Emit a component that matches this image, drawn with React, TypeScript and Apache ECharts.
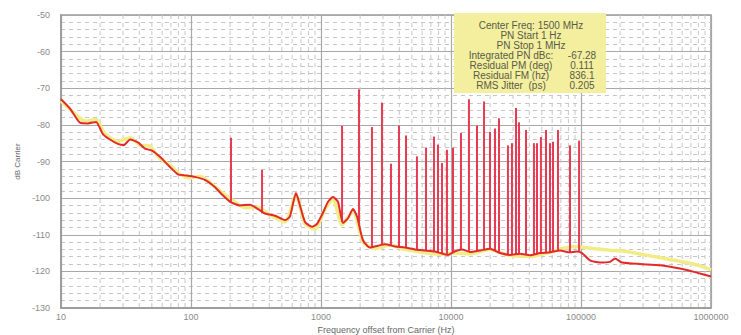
import React, { useEffect, useRef } from "react";
import * as echarts from "echarts";

// Red trace: phase-noise floor (Hz, dBc)
const redFreqs = [10, 11.7, 14, 16.1, 18.6, 21, 23.8, 27.4, 30.5, 34, 39.1, 44.3, 50.1, 57.7, 68.9, 79.4, 91.5, 107, 128, 153, 173, 200, 238, 284, 328, 371, 443, 529, 577, 642, 689, 753, 853, 932, 1036, 1132, 1237, 1351, 1476, 1613, 1763, 1892, 2104, 2382, 2745, 3107, 3708, 4429, 5286, 6310, 7532, 9483, 10740, 12150, 14005, 16720, 19953, 23820, 28430, 33950, 40530, 48370, 57730, 68930, 82290, 93160, 101800, 117300, 140000, 167100, 182600, 206800, 284300, 405300, 577400, 753300, 1000000];
const redValues = [-73, -75.5, -79.4, -79.6, -79.2, -82.5, -84, -85.2, -85.5, -84, -84.8, -86.5, -87, -88.7, -91.5, -93.5, -93.8, -94.2, -95, -97, -99, -101, -102, -101.8, -103, -104.2, -104.8, -106, -105, -98.6, -102, -106.5, -107.8, -107, -104, -101, -99.7, -101, -106.8, -105.5, -103, -105, -111.5, -113.5, -113, -112.6, -113.2, -113.5, -114, -114.3, -114.6, -115.5, -114.5, -114, -114.7, -114.3, -113.8, -115, -115.5, -115.2, -115.6, -115, -114.8, -114.3, -114.8, -114.6, -115, -117, -117.6, -117.4, -116.5, -117.6, -118, -118.3, -119.2, -120.2, -121.4];

// Yellow trace
const yellowFreqs = [10, 12.8, 15.3, 18.6, 21.8, 27.4, 34, 40.5, 48.4, 57.7, 68.9, 82.3, 98, 117, 145, 173, 207, 260, 328, 405, 529, 642, 753, 899, 1074, 1237, 1450, 1763, 2104, 2603, 3395, 4429, 5773, 8231, 10740, 14005, 19953, 28430, 40530, 57730, 75330, 93160, 107400, 128200, 167100, 218000, 310700, 442900, 631000, 823000, 1000000];
const yellowValues = [-73.5, -77, -79, -78.5, -82.5, -84.5, -83.5, -85.5, -85.8, -89.2, -91, -93.5, -94.5, -94, -96.2, -98.5, -100.5, -102.6, -102.5, -104.6, -106.5, -99.2, -107, -108.5, -103, -100.2, -107.3, -103.5, -112, -113.8, -112.8, -114, -114.7, -115.3, -115, -115.2, -114, -115.7, -115.9, -114.8, -113.6, -113.2, -113.5, -113.8, -114.2, -114.5, -115.5, -116.5, -117.5, -118.5, -119.6];

// Spurs: frequency, peak level, floor level at that offset
const spurFreqs = [203, 352, 1452, 1960, 2466, 2944, 3453, 3981, 4508, 5471, 6426, 7396, 7943, 8531, 9310, 10360, 11930, 13740, 15850, 17950, 19950, 21790, 23390, 27420, 29440, 31620, 33360, 37760, 43450, 45890, 49170, 53790, 57770, 60920, 66530, 82300, 96640];
const spurTops = [-83.5, -92.3, -80.3, -70.3, -80.6, -73.9, -90.6, -80.2, -82.9, -88.6, -86.2, -83.2, -85.4, -90.4, -86.8, -86.2, -82.2, -73, -80.2, -73.6, -81.9, -81, -78.2, -85.6, -85, -75.4, -79.3, -81.4, -85, -85, -83.3, -81.4, -85, -84.6, -81.4, -85.6, -84.3];
const spurBases = [-101, -104, -106.5, -107, -113.3, -112.8, -113, -113.3, -113.5, -114, -114.3, -114.6, -114.8, -115, -115.4, -114.7, -114, -114.6, -114.4, -114, -113.8, -114.4, -115, -115.4, -115.5, -115.3, -115.2, -115.5, -115.3, -115.2, -115, -114.9, -114.8, -114.6, -114.4, -114.8, -114.7];

const decades = [10, 100, 1000, 10000, 100000];
const minorSteps = [2, 3, 4, 5, 6, 7, 8, 9];

const boxLinesCentered = ["Center Freq: 1500 MHz", "PN Start 1 Hz", "PN Stop 1 MHz"];
const boxLabels = ["Integrated PN dBc:", "Residual PM (deg)", "Residual FM (hz)", "RMS Jitter  (ps)"];
const boxValues = ["-67.28", "0.111", "836.1", "0.205"];

const FONT = "'Liberation Sans', Arial, sans-serif";

export default function App() {
  const ref = useRef<HTMLDivElement>(null);
  useEffect(() => {
    if (!ref.current) return;
    const chart = echarts.init(ref.current, undefined, { renderer: "svg" });
    const minorFreqs: number[] = [];
    decades.forEach((d) => minorSteps.forEach((m) => minorFreqs.push(d * m)));

    const textColor = "#5a5a48";
    const graphics: any[] = [
      {
        type: "rect",
        left: 454,
        top: 13,
        shape: { width: 152, height: 80 },
        style: { fill: "#f3ef9e" },
        z: 10,
      },
    ];
    boxLinesCentered.forEach((t, i) => {
      graphics.push({
        type: "text",
        x: 531,
        y: 25 + i * 10,
        z: 11,
        style: { text: t, fill: textColor, font: `10px ${FONT}`, align: "center", verticalAlign: "middle" },
      });
    });
    boxLabels.forEach((t, i) => {
      graphics.push({
        type: "text",
        x: 511,
        y: 55 + i * 10,
        z: 11,
        style: { text: t, fill: textColor, font: `10px ${FONT}`, align: "center", verticalAlign: "middle" },
      });
      graphics.push({
        type: "text",
        x: 582,
        y: 55 + i * 10,
        z: 11,
        style: { text: boxValues[i], fill: textColor, font: `10px ${FONT}`, align: "center", verticalAlign: "middle" },
      });
    });

    chart.setOption({
      animation: false,
      backgroundColor: "#ffffff",
      textStyle: { fontFamily: FONT },
      grid: {
        left: 61,
        right: 30,
        top: 15,
        bottom: 27,
        containLabel: false,
        outerBoundsMode: "none",
        show: true,
        borderColor: "#999999",
        borderWidth: 1.5,
      },
      xAxis: {
        type: "log",
        logBase: 10,
        min: 10,
        max: 1000000,
        name: "Frequency offset from Carrier (Hz)",
        nameLocation: "middle",
        nameGap: 17,
        nameTextStyle: { color: "#666", fontSize: 9, fontFamily: FONT },
        axisLine: { show: true, lineStyle: { color: "#999999", width: 1.5 } },
        axisTick: { show: false },
        axisLabel: {
          color: "#8a8a8a",
          fontSize: 9,
          margin: 4,
          fontFamily: FONT,
          formatter: (v: number) => String(Math.round(v)),
        },
        splitLine: { show: true, lineStyle: { color: "#a8a8a8", width: 1.2 } },
      },
      yAxis: {
        type: "value",
        min: -130,
        max: -50,
        interval: 10,
        name: "dB Carrier",
        nameLocation: "middle",
        nameGap: 38,
        nameTextStyle: { color: "#666", fontSize: 8, fontFamily: FONT },
        axisLine: { show: true, lineStyle: { color: "#999999", width: 1.5 } },
        axisTick: { show: false },
        axisLabel: { color: "#8a8a8a", fontSize: 9, margin: 11, fontFamily: FONT },
        splitLine: { show: true, lineStyle: { color: "#a8a8a8", width: 1.2 } },
        minorTick: { show: false, splitNumber: 5 },
        minorSplitLine: { show: true, lineStyle: { color: "#c6c6c6", type: [4, 4], width: 1 } },
      },
      graphic: graphics,
      series: [
        {
          type: "custom",
          name: "minorGrid",
          silent: true,
          z: 1,
          data: minorFreqs.map((f) => [f, -130]),
          encode: { x: 0, y: 1 },
          renderItem: (params: any, api: any) => {
            const p = api.coord([api.value(0), -130]);
            const cs = params.coordSys;
            return {
              type: "line",
              shape: { x1: p[0], y1: cs.y, x2: p[0], y2: cs.y + cs.height },
              style: { stroke: "#c6c6c6", lineWidth: 1, lineDash: [4, 4] },
            };
          },
        },
        {
          type: "line",
          name: "trace2",
          z: 2,
          data: yellowFreqs.map((f, i) => [f, yellowValues[i]]),
          showSymbol: false,
          smooth: 0.2,
          lineStyle: { color: "#f2ec86", width: 3.5 },
        },
        {
          type: "custom",
          name: "spurs",
          z: 3,
          data: spurFreqs.map((f, i) => [f, spurTops[i], spurBases[i]]),
          encode: { x: 0, y: [1, 2] },
          renderItem: (params: any, api: any) => {
            const f = api.value(0);
            const p1 = api.coord([f, api.value(2)]);
            const p2 = api.coord([f, api.value(1)]);
            return {
              type: "line",
              shape: { x1: p1[0], y1: p1[1], x2: p2[0], y2: p2[1] },
              style: { stroke: "#e83a52", lineWidth: 2 },
            };
          },
        },
        {
          type: "line",
          name: "trace1",
          z: 4,
          data: redFreqs.map((f, i) => [f, redValues[i]]),
          showSymbol: false,
          smooth: 0.2,
          lineStyle: { color: "#e22a2a", width: 2 },
        },
      ],
    });
    return () => chart.dispose();
  }, []);
  return <div ref={ref} style={{ position: "fixed", left: 0, top: 0, width: 741, height: 335 }} />;
}
